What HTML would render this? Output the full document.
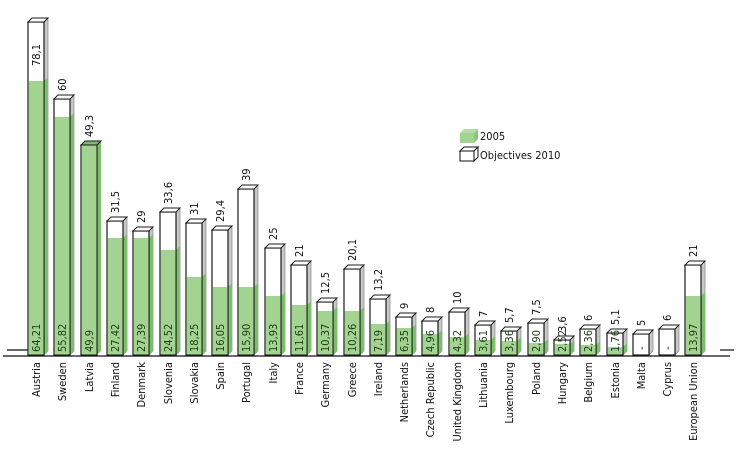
<!DOCTYPE html>
<html><head><meta charset="utf-8"><style>
html,body{margin:0;padding:0;background:#fff;}
svg{display:block;font-family:"DejaVu Sans Condensed","Liberation Sans",sans-serif;}
.f{fill:#fff;stroke:#1a1a1a;stroke-width:1.2}
.g{fill:#a3d391}
.s{fill:#c8c8c8;stroke:#777;stroke-width:.6}
.sg{fill:#7cbf6a}
.t{fill:#fff;stroke:#1a1a1a;stroke-width:1}
text{font-size:11px;fill:#111}
.in{fill:#1d3a14}
</style></head><body>
<svg width="744" height="460" viewBox="0 0 744 460">
<line x1="7" y1="350" x2="28" y2="350" stroke="#111" stroke-width="1.2"/>
<line x1="3" y1="356" x2="730" y2="356" stroke="#111" stroke-width="1.3"/>
<line x1="720" y1="350" x2="734" y2="350" stroke="#111" stroke-width="1.2"/>

<!-- Bar template: translate(x,0); T=objective top, G=green top -->
<g transform="translate(28,0)"><polygon class="s" points="16,22 20,18 20,351 16,355"/><polygon class="sg" points="16,81 20,77 20,351 16,355"/><rect class="f" x="0" y="22" width="16" height="333"/><rect class="g" x="0.6" y="81" width="14.8" height="273.4"/><polygon class="t" points="0,22 4,18 20,18 16,22"/><text class="in" transform="translate(12,352) rotate(-90)">64,21</text><text transform="translate(12,66) rotate(-90)">78,1</text><text transform="translate(12,362) rotate(-90)" text-anchor="end">Austria</text></g>

<g transform="translate(54,0)"><polygon class="s" points="16,99 20,95 20,351 16,355"/><polygon class="sg" points="16,117 20,113 20,351 16,355"/><rect class="f" x="0" y="99" width="16" height="256"/><rect class="g" x="0.6" y="117" width="14.8" height="237.4"/><polygon class="t" points="0,99 4,95 20,95 16,99"/><text class="in" transform="translate(12,352) rotate(-90)">55,82</text><text transform="translate(12,91) rotate(-90)">60</text><text transform="translate(12,362) rotate(-90)" text-anchor="end">Sweden</text></g>

<g transform="translate(81,0)"><polygon class="sg" points="16,145 20,141 20,351 16,355"/><rect class="f" x="0" y="145" width="16" height="210"/><rect class="g" x="0.6" y="145.6" width="14.8" height="208.8"/><polygon points="0,145 4,141 20,141 16,145" fill="#7cbf6a" stroke="#1a1a1a" stroke-width="1"/><text class="in" transform="translate(12,352) rotate(-90)">49,9</text><text transform="translate(12,137) rotate(-90)">49,3</text><text transform="translate(12,362) rotate(-90)" text-anchor="end">Latvia</text></g>

<g transform="translate(107,0)"><polygon class="s" points="16,221 20,217 20,351 16,355"/><polygon class="sg" points="16,238 20,234 20,351 16,355"/><rect class="f" x="0" y="221" width="16" height="134"/><rect class="g" x="0.6" y="238" width="14.8" height="116.4"/><polygon class="t" points="0,221 4,217 20,217 16,221"/><text class="in" transform="translate(12,352) rotate(-90)">27,42</text><text transform="translate(12,213) rotate(-90)">31,5</text><text transform="translate(12,362) rotate(-90)" text-anchor="end">Finland</text></g>

<g transform="translate(133,0)"><polygon class="s" points="16,231 20,227 20,351 16,355"/><polygon class="sg" points="16,238 20,234 20,351 16,355"/><rect class="f" x="0" y="231" width="16" height="124"/><rect class="g" x="0.6" y="238" width="14.8" height="116.4"/><polygon class="t" points="0,231 4,227 20,227 16,231"/><text class="in" transform="translate(12,352) rotate(-90)">27,39</text><text transform="translate(12,223) rotate(-90)">29</text><text transform="translate(12,362) rotate(-90)" text-anchor="end">Denmark</text></g>

<g transform="translate(160,0)"><polygon class="s" points="16,212 20,208 20,351 16,355"/><polygon class="sg" points="16,250 20,246 20,351 16,355"/><rect class="f" x="0" y="212" width="16" height="143"/><rect class="g" x="0.6" y="250" width="14.8" height="104.4"/><polygon class="t" points="0,212 4,208 20,208 16,212"/><text class="in" transform="translate(12,352) rotate(-90)">24,52</text><text transform="translate(12,204) rotate(-90)">33,6</text><text transform="translate(12,362) rotate(-90)" text-anchor="end">Slovenia</text></g>

<g transform="translate(186,0)"><polygon class="s" points="16,223 20,219 20,351 16,355"/><polygon class="sg" points="16,277 20,273 20,351 16,355"/><rect class="f" x="0" y="223" width="16" height="132"/><rect class="g" x="0.6" y="277" width="14.8" height="77.4"/><polygon class="t" points="0,223 4,219 20,219 16,223"/><text class="in" transform="translate(12,352) rotate(-90)">18,25</text><text transform="translate(12,215) rotate(-90)">31</text><text transform="translate(12,362) rotate(-90)" text-anchor="end">Slovakia</text></g>

<g transform="translate(212,0)"><polygon class="s" points="16,230 20,226 20,351 16,355"/><polygon class="sg" points="16,287 20,283 20,351 16,355"/><rect class="f" x="0" y="230" width="16" height="125"/><rect class="g" x="0.6" y="287" width="14.8" height="67.4"/><polygon class="t" points="0,230 4,226 20,226 16,230"/><text class="in" transform="translate(12,352) rotate(-90)">16,05</text><text transform="translate(12,222) rotate(-90)">29,4</text><text transform="translate(12,362) rotate(-90)" text-anchor="end">Spain</text></g>

<g transform="translate(238,0)"><polygon class="s" points="16,189 20,185 20,351 16,355"/><polygon class="sg" points="16,287 20,283 20,351 16,355"/><rect class="f" x="0" y="189" width="16" height="166"/><rect class="g" x="0.6" y="287" width="14.8" height="67.4"/><polygon class="t" points="0,189 4,185 20,185 16,189"/><text class="in" transform="translate(12,352) rotate(-90)">15,90</text><text transform="translate(12,181) rotate(-90)">39</text><text transform="translate(12,362) rotate(-90)" text-anchor="end">Portugal</text></g>

<g transform="translate(265,0)"><polygon class="s" points="16,248 20,244 20,351 16,355"/><polygon class="sg" points="16,296 20,292 20,351 16,355"/><rect class="f" x="0" y="248" width="16" height="107"/><rect class="g" x="0.6" y="296" width="14.8" height="58.4"/><polygon class="t" points="0,248 4,244 20,244 16,248"/><text class="in" transform="translate(12,352) rotate(-90)">13,93</text><text transform="translate(12,240) rotate(-90)">25</text><text transform="translate(12,362) rotate(-90)" text-anchor="end">Italy</text></g>

<g transform="translate(291,0)"><polygon class="s" points="16,265 20,261 20,351 16,355"/><polygon class="sg" points="16,305 20,301 20,351 16,355"/><rect class="f" x="0" y="265" width="16" height="90"/><rect class="g" x="0.6" y="305" width="14.8" height="49.4"/><polygon class="t" points="0,265 4,261 20,261 16,265"/><text class="in" transform="translate(12,352) rotate(-90)">11,61</text><text transform="translate(12,257) rotate(-90)">21</text><text transform="translate(12,362) rotate(-90)" text-anchor="end">France</text></g>

<g transform="translate(317,0)"><polygon class="s" points="16,302 20,298 20,351 16,355"/><polygon class="sg" points="16,311 20,307 20,351 16,355"/><rect class="f" x="0" y="302" width="16" height="53"/><rect class="g" x="0.6" y="311" width="14.8" height="43.4"/><polygon class="t" points="0,302 4,298 20,298 16,302"/><text class="in" transform="translate(12,352) rotate(-90)">10,37</text><text transform="translate(12,294) rotate(-90)">12,5</text><text transform="translate(12,362) rotate(-90)" text-anchor="end">Germany</text></g>

<g transform="translate(344,0)"><polygon class="s" points="16,269 20,265 20,351 16,355"/><polygon class="sg" points="16,311 20,307 20,351 16,355"/><rect class="f" x="0" y="269" width="16" height="86"/><rect class="g" x="0.6" y="311" width="14.8" height="43.4"/><polygon class="t" points="0,269 4,265 20,265 16,269"/><text class="in" transform="translate(12,352) rotate(-90)">10,26</text><text transform="translate(12,261) rotate(-90)">20,1</text><text transform="translate(12,362) rotate(-90)" text-anchor="end">Greece</text></g>

<g transform="translate(370,0)"><polygon class="s" points="16,299 20,295 20,351 16,355"/><polygon class="sg" points="16,324 20,320 20,351 16,355"/><rect class="f" x="0" y="299" width="16" height="56"/><rect class="g" x="0.6" y="324" width="14.8" height="30.4"/><polygon class="t" points="0,299 4,295 20,295 16,299"/><text class="in" transform="translate(12,352) rotate(-90)">7,19</text><text transform="translate(12,291) rotate(-90)">13,2</text><text transform="translate(12,362) rotate(-90)" text-anchor="end">Ireland</text></g>

<g transform="translate(396,0)"><polygon class="s" points="16,317 20,313 20,351 16,355"/><polygon class="sg" points="16,328 20,324 20,351 16,355"/><rect class="f" x="0" y="317" width="16" height="38"/><rect class="g" x="0.6" y="328" width="14.8" height="26.4"/><polygon class="t" points="0,317 4,313 20,313 16,317"/><text class="in" transform="translate(12,352) rotate(-90)">6,35</text><text transform="translate(12,309) rotate(-90)">9</text><text transform="translate(12,362) rotate(-90)" text-anchor="end">Netherlands</text></g>

<g transform="translate(422,0)"><polygon class="s" points="16,321 20,317 20,351 16,355"/><polygon class="sg" points="16,334 20,330 20,351 16,355"/><rect class="f" x="0" y="321" width="16" height="34"/><rect class="g" x="0.6" y="334" width="14.8" height="20.4"/><polygon class="t" points="0,321 4,317 20,317 16,321"/><text class="in" transform="translate(12,352) rotate(-90)">4,96</text><text transform="translate(12,313) rotate(-90)">8</text><text transform="translate(12,362) rotate(-90)" text-anchor="end">Czech Republic</text></g>

<g transform="translate(449,0)"><polygon class="s" points="16,312 20,308 20,351 16,355"/><polygon class="sg" points="16,337 20,333 20,351 16,355"/><rect class="f" x="0" y="312" width="16" height="43"/><rect class="g" x="0.6" y="337" width="14.8" height="17.4"/><polygon class="t" points="0,312 4,308 20,308 16,312"/><text class="in" transform="translate(12,352) rotate(-90)">4,32</text><text transform="translate(12,304) rotate(-90)">10</text><text transform="translate(12,362) rotate(-90)" text-anchor="end">United Kingdom</text></g>

<g transform="translate(475,0)"><polygon class="s" points="16,325 20,321 20,351 16,355"/><polygon class="sg" points="16,340 20,336 20,351 16,355"/><rect class="f" x="0" y="325" width="16" height="30"/><rect class="g" x="0.6" y="340" width="14.8" height="14.4"/><polygon class="t" points="0,325 4,321 20,321 16,325"/><text class="in" transform="translate(12,352) rotate(-90)">3,61</text><text transform="translate(12,317) rotate(-90)">7</text><text transform="translate(12,362) rotate(-90)" text-anchor="end">Lithuania</text></g>

<g transform="translate(501,0)"><polygon class="s" points="16,331 20,327 20,351 16,355"/><polygon class="sg" points="16,341 20,337 20,351 16,355"/><rect class="f" x="0" y="331" width="16" height="24"/><rect class="g" x="0.6" y="341" width="14.8" height="13.4"/><polygon class="t" points="0,331 4,327 20,327 16,331"/><text class="in" transform="translate(12,352) rotate(-90)">3,36</text><text transform="translate(12,323) rotate(-90)">5,7</text><text transform="translate(12,362) rotate(-90)" text-anchor="end">Luxembourg</text></g>

<g transform="translate(528,0)"><polygon class="s" points="16,323 20,319 20,351 16,355"/><polygon class="sg" points="16,343 20,339 20,351 16,355"/><rect class="f" x="0" y="323" width="16" height="32"/><rect class="g" x="0.6" y="343" width="14.8" height="11.4"/><polygon class="t" points="0,323 4,319 20,319 16,323"/><text class="in" transform="translate(12,352) rotate(-90)">2,90</text><text transform="translate(12,315) rotate(-90)">7,5</text><text transform="translate(12,362) rotate(-90)" text-anchor="end">Poland</text></g>

<g transform="translate(554,0)"><polygon class="s" points="16,340 20,336 20,351 16,355"/><polygon class="sg" points="16,344 20,340 20,351 16,355"/><rect class="f" x="0" y="340" width="16" height="15"/><rect class="g" x="0.6" y="344" width="14.8" height="10.4"/><polygon class="t" points="0,340 4,336 20,336 16,340"/><text class="in" transform="translate(12,352) rotate(-90)">2,52</text><text transform="translate(12,332) rotate(-90)">3,6</text><text transform="translate(12,362) rotate(-90)" text-anchor="end">Hungary</text></g>

<g transform="translate(580,0)"><polygon class="s" points="16,329 20,325 20,351 16,355"/><polygon class="sg" points="16,345 20,341 20,351 16,355"/><rect class="f" x="0" y="329" width="16" height="26"/><rect class="g" x="0.6" y="345" width="14.8" height="9.4"/><polygon class="t" points="0,329 4,325 20,325 16,329"/><text class="in" transform="translate(12,352) rotate(-90)">2,36</text><text transform="translate(12,321) rotate(-90)">6</text><text transform="translate(12,362) rotate(-90)" text-anchor="end">Belgium</text></g>

<g transform="translate(607,0)"><polygon class="s" points="16,333 20,329 20,351 16,355"/><polygon class="sg" points="16,347 20,343 20,351 16,355"/><rect class="f" x="0" y="333" width="16" height="22"/><rect class="g" x="0.6" y="347" width="14.8" height="7.4"/><polygon class="t" points="0,333 4,329 20,329 16,333"/><text class="in" transform="translate(12,352) rotate(-90)">1,76</text><text transform="translate(12,325) rotate(-90)">5,1</text><text transform="translate(12,362) rotate(-90)" text-anchor="end">Estonia</text></g>

<g transform="translate(633,0)"><polygon class="s" points="16,334 20,330 20,351 16,355"/><rect class="f" x="0" y="334" width="16" height="21"/><polygon class="t" points="0,334 4,330 20,330 16,334"/><text transform="translate(12,350) rotate(-90)">-</text><text transform="translate(12,326) rotate(-90)">5</text><text transform="translate(12,362) rotate(-90)" text-anchor="end">Malta</text></g>

<g transform="translate(659,0)"><polygon class="s" points="16,329 20,325 20,351 16,355"/><rect class="f" x="0" y="329" width="16" height="26"/><polygon class="t" points="0,329 4,325 20,325 16,329"/><text transform="translate(12,350) rotate(-90)">-</text><text transform="translate(12,321) rotate(-90)">6</text><text transform="translate(12,362) rotate(-90)" text-anchor="end">Cyprus</text></g>

<g transform="translate(685,0)"><polygon class="s" points="16,265 20,261 20,351 16,355"/><polygon class="sg" points="16,296 20,292 20,351 16,355"/><rect class="f" x="0" y="265" width="16" height="90"/><rect class="g" x="0.6" y="296" width="14.8" height="58.4"/><polygon class="t" points="0,265 4,261 20,261 16,265"/><text class="in" transform="translate(12,352) rotate(-90)">13,97</text><text transform="translate(12,257) rotate(-90)">21</text><text transform="translate(12,362) rotate(-90)" text-anchor="end">European Union</text></g>

<!-- legend -->
<polygon points="460,133 464,129 478,129 474,133" fill="#b5dca6"/>
<polygon points="474,133 478,129 478,139 474,143" fill="#8ec77c"/>
<rect x="460" y="133" width="14" height="10" fill="#a3d391"/>
<text x="480" y="140" style="font-size:11px">2005</text>
<polygon points="460,151 464,147 478,147 474,151" fill="#fff" stroke="#111" stroke-width="1"/>
<polygon points="474,151 478,147 478,157 474,161" fill="#fff" stroke="#111" stroke-width="1"/>
<rect x="460" y="151" width="14" height="10" fill="#fff" stroke="#111" stroke-width="1"/>
<text x="480" y="159" style="font-size:11px">Objectives 2010</text>
</svg>
</body></html>
